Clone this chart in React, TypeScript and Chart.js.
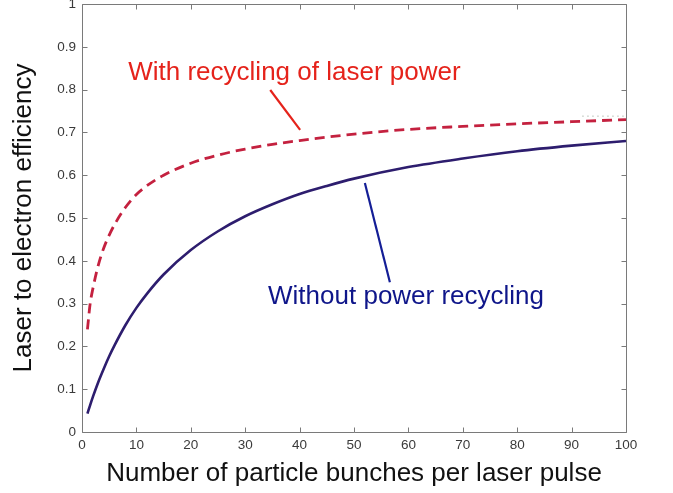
import React, { useEffect, useRef } from "react";
import { Chart, registerables } from "chart.js";

Chart.register(...registerables);

const bunches = [1, 1.5, 2, 3, 4, 5, 6, 8, 10, 12, 15, 20, 25, 30, 35, 40, 45, 50, 60, 70, 80, 90, 100];
const withRecycling = [0.24, 0.3, 0.335, 0.39, 0.43, 0.46, 0.485, 0.525, 0.555, 0.576, 0.6, 0.628, 0.647, 0.661, 0.672, 0.681, 0.689, 0.696, 0.707, 0.714, 0.72, 0.725, 0.73];
const withoutRecycling = [0.043, 0.063, 0.082, 0.117, 0.148, 0.177, 0.203, 0.25, 0.29, 0.324, 0.368, 0.425, 0.469, 0.504, 0.532, 0.556, 0.575, 0.592, 0.619, 0.639, 0.656, 0.669, 0.68];
const dottedX = [92, 100];
const dottedY = [0.738, 0.738];

const xTicks = [0, 10, 20, 30, 40, 50, 60, 70, 80, 90, 100];
const yTicks = [0, 0.1, 0.2, 0.3, 0.4, 0.5, 0.6, 0.7, 0.8, 0.9, 1];

const redLabel = "With recycling of laser power";
const blueLabel = "Without power recycling";

const FONT = "'Liberation Sans', Arial, Helvetica, sans-serif";

const annotations = [
  { text: redLabel, x: 8.5, y: 0.839, color: "#e5231b" },
  { text: blueLabel, x: 34.2, y: 0.315, color: "#0f168a" },
];
const pointers = [
  { x1: 34.6, y1: 0.799, x2: 40.1, y2: 0.706, color: "#e5231b" },
  { x1: 52.0, y1: 0.582, x2: 56.6, y2: 0.35, color: "#141e96" },
];

const framePlugin = {
  id: "frame",
  afterDatasetsDraw(chart: any) {
    const { ctx, chartArea: a, scales } = chart;
    const xs = scales.x;
    const ys = scales.y;
    ctx.save();
    ctx.lineWidth = 2.2;
    ctx.lineCap = "butt";
    for (const p of pointers) {
      ctx.strokeStyle = p.color;
      ctx.beginPath();
      ctx.moveTo(xs.getPixelForValue(p.x1), ys.getPixelForValue(p.y1));
      ctx.lineTo(xs.getPixelForValue(p.x2), ys.getPixelForValue(p.y2));
      ctx.stroke();
    }
    ctx.font = `26px ${FONT}`;
    ctx.textAlign = "left";
    ctx.textBaseline = "middle";
    for (const t of annotations) {
      ctx.fillStyle = t.color;
      ctx.fillText(t.text, xs.getPixelForValue(t.x), ys.getPixelForValue(t.y));
    }
    ctx.strokeStyle = "#7a7a7a";
    ctx.lineWidth = 1;
    const L = Math.round(a.left) + 0.5;
    const R = Math.round(a.right) + 0.5;
    const T = Math.round(a.top) + 0.5;
    const B = Math.round(a.bottom) + 0.5;
    ctx.beginPath();
    ctx.rect(L, T, R - L, B - T);
    ctx.stroke();
    const tl = 5;
    ctx.beginPath();
    for (const v of xTicks) {
      const px = Math.round(xs.getPixelForValue(v)) + 0.5;
      ctx.moveTo(px, B);
      ctx.lineTo(px, B - tl);
      ctx.moveTo(px, T);
      ctx.lineTo(px, T + tl);
    }
    for (const v of yTicks) {
      const py = Math.round(ys.getPixelForValue(v)) + 0.5;
      ctx.moveTo(L, py);
      ctx.lineTo(L + tl, py);
      ctx.moveTo(R, py);
      ctx.lineTo(R - tl, py);
    }
    ctx.stroke();
    ctx.restore();
  },
};

export default function App() {
  const ref = useRef<HTMLCanvasElement | null>(null);
  useEffect(() => {
    if (!ref.current) return;
    const chart = new Chart(ref.current, {
      type: "line",
      data: {
        datasets: [
          {
            label: redLabel,
            data: bunches.map((x, i) => ({ x, y: withRecycling[i] })),
            borderColor: "#c4213f",
            borderWidth: 2.8,
            borderDash: [10, 6],
            pointRadius: 0,
            cubicInterpolationMode: "monotone",
            fill: false,
          },
          {
            label: blueLabel,
            data: bunches.map((x, i) => ({ x, y: withoutRecycling[i] })),
            borderColor: "#2d1d6e",
            borderWidth: 2.6,
            pointRadius: 0,
            cubicInterpolationMode: "monotone",
            fill: false,
          },
          {
            label: "dotted",
            data: dottedX.map((x, i) => ({ x, y: dottedY[i] })),
            borderColor: "#8a9a8a",
            borderWidth: 1,
            borderDash: [1, 4],
            pointRadius: 0,
            fill: false,
          },
        ],
      },
      options: {
        responsive: false,
        animation: false,
        layout: { padding: { left: 0, top: 4, right: 47, bottom: 0 } },
        plugins: { legend: { display: false }, tooltip: { enabled: false } },
        scales: {
          x: {
            type: "linear",
            min: 0,
            max: 100,
            afterFit: (s: any) => {
              s.height = 61;
              s.paddingLeft = 0;
              s.paddingRight = 0;
            },
            afterBuildTicks: (s: any) => {
              s.ticks = xTicks.map((v) => ({ value: v }));
            },
            grid: { display: false, drawTicks: false },
            border: { display: false },
            ticks: {
              padding: 5,
              maxRotation: 0,
              autoSkip: false,
              color: "#3a3a3a",
              font: { family: FONT, size: 13.5 },
              callback: (v: any) => String(v),
            },
            title: {
              display: true,
              text: "Number of particle bunches per laser pulse",
              color: "#111111",
              font: { family: FONT, size: 26 },
              padding: { top: 0, bottom: 4 },
            },
          },
          y: {
            type: "linear",
            min: 0,
            max: 1,
            afterFit: (s: any) => {
              s.width = 82;
              s.paddingTop = 0;
              s.paddingBottom = 0;
            },
            afterBuildTicks: (s: any) => {
              s.ticks = yTicks.map((v) => ({ value: v }));
            },
            grid: { display: false, drawTicks: false },
            border: { display: false },
            ticks: {
              padding: 6,
              autoSkip: false,
              color: "#3a3a3a",
              font: { family: FONT, size: 13.5 },
              callback: (v: any) => String(v),
            },
            title: {
              display: true,
              text: "Laser to electron efficiency",
              color: "#111111",
              font: { family: FONT, size: 26 },
              padding: { top: 8, bottom: 0 },
            },
          },
        },
      },
      plugins: [framePlugin],
    } as any);
    return () => chart.destroy();
  }, []);
  return (
    <div style={{ position: "fixed", left: 0, top: 0, width: 673, height: 493, background: "#ffffff" }}>
      <canvas ref={ref} width={673} height={493} style={{ display: "block" }} />
    </div>
  );
}
